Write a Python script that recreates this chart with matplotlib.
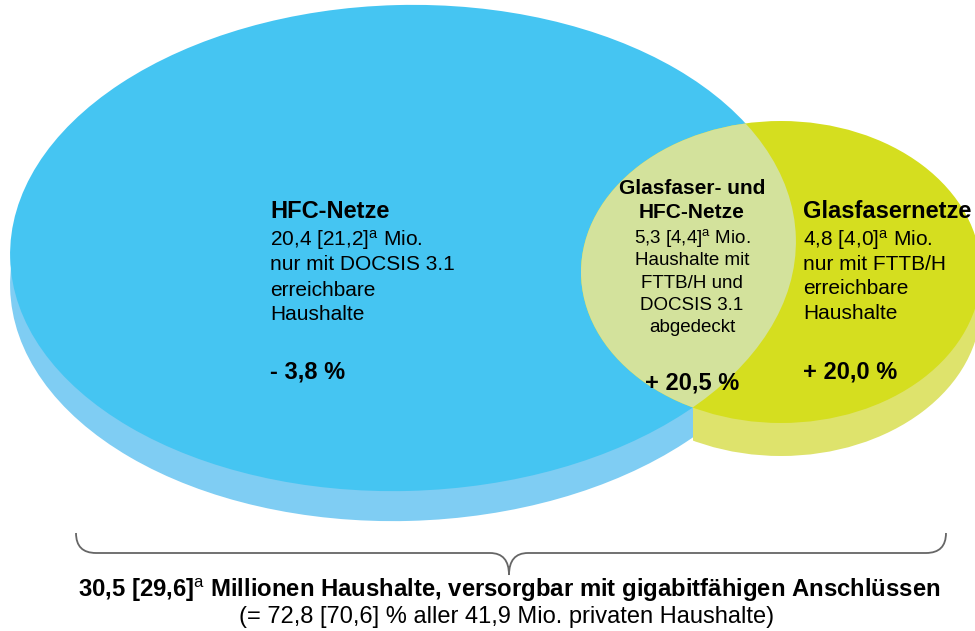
import numpy as np
import matplotlib
matplotlib.use("Agg")
import matplotlib.pyplot as plt
from matplotlib.patches import Ellipse, Rectangle, PathPatch
from matplotlib.path import Path

plt.rcParams['font.family'] = ['Liberation Sans', 'DejaVu Sans']
plt.rcParams['mathtext.fontset'] = 'custom'
plt.rcParams['mathtext.rm'] = 'Liberation Sans'
plt.rcParams['mathtext.it'] = 'Liberation Sans'
plt.rcParams['mathtext.bf'] = 'Liberation Sans:bold'

SUP = r"$^{\mathrm{a}}$"

# ---- data (text content) ----
hfc_title = "HFC-Netze"
hfc_body = ["20,4 [21,2]" + SUP + " Mio.", "nur mit DOCSIS 3.1", "erreichbare", "Haushalte"]
hfc_change = "- 3,8 %"

both_title = ["Glasfaser- und", "HFC-Netze"]
both_body = ["5,3 [4,4]" + SUP + " Mio.", "Haushalte mit", "FTTB/H und", "DOCSIS 3.1", "abgedeckt"]
both_change = "+ 20,5 %"

fib_title = "Glasfasernetze"
fib_body = ["4,8 [4,0]" + SUP + " Mio.", "nur mit FTTB/H", "erreichbare", "Haushalte"]
fib_change = "+ 20,0 %"

total_line1 = "30,5 [29,6]" + SUP + " Millionen Haushalte, versorgbar mit gigabitfähigen Anschlüssen"
total_line2 = "(= 72,8 [70,6] % aller 41,9 Mio. privaten Haushalte)"

# ---- styling ----
BLUE = "#45C5F2"
BLUE_SIDE = "#7FCDF3"
YEL = "#D5DE1F"
YEL_SIDE = "#DEE36C"
OVER = "#D3E29C"

fig = plt.figure(figsize=(9.75, 6.31), dpi=100)
ax = fig.add_axes([0, 0, 1, 1])
ax.set_xlim(0, 975)
ax.set_ylim(631, 0)
ax.axis("off")

# geometry (pixel space)
bcx, bcy, bw, bh, bang = 403, 248, 786, 486, -1.5
ycx, ycy, yw, yh = 781, 272, 400, 302
bdep, ydep = 30, 33

# lower intersection of the two face outlines
t = np.linspace(0, np.pi, 6000)
ph = np.deg2rad(bang)
bx = bcx + bw / 2 * np.cos(t) * np.cos(ph) - bh / 2 * np.sin(t) * np.sin(ph)
by = bcy + bw / 2 * np.cos(t) * np.sin(ph) + bh / 2 * np.sin(t) * np.cos(ph)
val = ((bx - ycx) / (yw / 2)) ** 2 + ((by - ycy) / (yh / 2)) ** 2 - 1
idx = np.where(np.diff(np.sign(val)) != 0)[0][0]
xint = bx[idx]

# sides
bside = Ellipse((bcx, bcy + bdep), bw, bh, angle=bang, facecolor=BLUE_SIDE, edgecolor="none", zorder=1)
ax.add_patch(bside)
bside.set_clip_path(Rectangle((0, 0), xint, 631, transform=ax.transData))
yside = Ellipse((ycx, ycy + ydep), yw, yh, facecolor=YEL_SIDE, edgecolor="none", zorder=1)
ax.add_patch(yside)
yside.set_clip_path(Rectangle((xint, 0), 975 - xint, 631, transform=ax.transData))

# faces
bface = Ellipse((bcx, bcy), bw, bh, angle=bang, facecolor=BLUE, edgecolor="none", zorder=2)
ax.add_patch(bface)
yface = Ellipse((ycx, ycy), yw, yh, facecolor=YEL, edgecolor="none", zorder=3)
ax.add_patch(yface)
over = Ellipse((ycx, ycy), yw, yh, facecolor=OVER, edgecolor="none", zorder=4)
ax.add_patch(over)
over.set_clip_path(Ellipse((bcx, bcy), bw, bh, angle=bang, transform=ax.transData))

TS = 17
BS = 15
MS = 13.5

# HFC text
ax.text(270, 212, hfc_title, fontsize=TS, fontweight="bold", ha="left", va="center", zorder=10)
for i, s in enumerate(hfc_body):
    ax.text(270, 240 + 25 * i, s, fontsize=BS, ha="left", va="center", zorder=10)
ax.text(270, 372, hfc_change, fontsize=TS, fontweight="bold", ha="left", va="center", zorder=10)

# overlap text
for i, s in enumerate(both_title):
    ax.text(692, 188 + 25 * i, s, fontsize=15, fontweight="bold", ha="center", va="center", zorder=10)
for i, s in enumerate(both_body):
    ax.text(692, 238 + 22.5 * i, s, fontsize=MS, ha="center", va="center", zorder=10)
ax.text(692, 383, both_change, fontsize=TS, fontweight="bold", ha="center", va="center", zorder=10)

# fibre text
ax.text(803, 212, fib_title, fontsize=TS, fontweight="bold", ha="left", va="center", zorder=10)
for i, s in enumerate(fib_body):
    ax.text(803, 240 + 24.5 * i, s, fontsize=BS, ha="left", va="center", zorder=10)
ax.text(803, 372, fib_change, fontsize=TS, fontweight="bold", ha="left", va="center", zorder=10)

# brace
L, R, Y, TOP, CX, TIP = 76, 946, 553, 533, 509, 575
verts = [(L, TOP), (L, Y), (L + 20, Y),
         (CX - 19, Y),
         (CX, Y), (CX, TIP),
         (CX, Y), (CX + 19, Y),
         (R - 20, Y),
         (R, Y), (R, TOP)]
codes = [Path.MOVETO, Path.CURVE3, Path.CURVE3,
         Path.LINETO,
         Path.CURVE3, Path.CURVE3,
         Path.CURVE3, Path.CURVE3,
         Path.LINETO,
         Path.CURVE3, Path.CURVE3]
ax.add_patch(PathPatch(Path(verts, codes), facecolor="none", edgecolor="#666666", lw=1.3, zorder=5))

ax.text(509, 590, total_line1, fontsize=17.2, fontweight="bold", ha="center", va="center", zorder=10)
ax.text(507, 617, total_line2, fontsize=17, ha="center", va="center", zorder=10)

fig.savefig("out.png", dpi=100)
